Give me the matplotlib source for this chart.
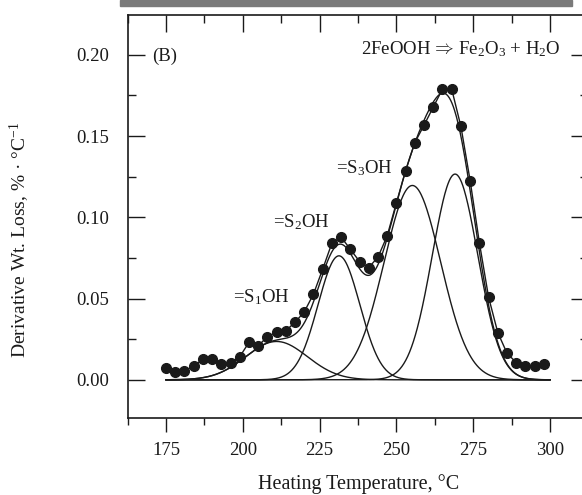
import numpy as np
import matplotlib
matplotlib.use("Agg")
from matplotlib import pyplot as plt
from matplotlib.ticker import MultipleLocator

plt.rcParams['font.family'] = ['Liberation Serif', 'DejaVu Serif']
plt.rcParams['mathtext.fontset'] = 'custom'
plt.rcParams['mathtext.rm'] = 'Liberation Serif'
plt.rcParams['mathtext.it'] = 'Liberation Serif:italic'

# measured derivative weight loss, every 3 degC from 175 to 298
temp = np.arange(175, 299, 3)
dtg = [0.0072, 0.0051, 0.0053, 0.0086, 0.0126, 0.0126, 0.0095, 0.0105, 0.0142, 0.0230,
       0.0209, 0.0265, 0.0294, 0.0302, 0.0354, 0.0418, 0.0527, 0.0681, 0.0841, 0.0878,
       0.0804, 0.0728, 0.0691, 0.0755, 0.0886, 0.1089, 0.1287, 0.1460, 0.1567, 0.1678,
       0.1789, 0.1789, 0.1559, 0.1226, 0.0845, 0.0509, 0.0291, 0.0164, 0.0106, 0.0086,
       0.0086, 0.0097]

# fitted peaks (=S1OH, =S2OH, =S3OH, FeOOH -> Fe2O3)
peak_center = [211.0, 231.3, 255.2, 269.1]
peak_height = [0.0236, 0.0763, 0.1196, 0.1266]
peak_sigma = [10.0, 6.8, 9.2, 7.4]

ink = '#1a1a1a'

fig = plt.figure(figsize=(5.82, 4.95), dpi=100)

# grey strip left over from the panel above
fig.patches.append(plt.Rectangle((120 / 582, 1 - 6 / 495), 452 / 582, 6 / 495,
                                 transform=fig.transFigure, color='#7a7a7a', zorder=0))

ax = fig.add_axes([127.6 / 582, 77 / 495, 460.8 / 582, 403 / 495])

t = np.linspace(175, 300, 600)
total = np.zeros_like(t)
for c, h, s in zip(peak_center, peak_height, peak_sigma):
    g = h * np.exp(-(t - c) ** 2 / (2 * s ** 2))
    total += g
    ax.plot(t, g, color=ink, lw=1.0)
ax.plot(t, total, color=ink, lw=1.0)
ax.plot(temp, dtg, '-o', color=ink, lw=1.0, ms=7)

ax.set_xlim(162.5, 312.5)
ax.set_ylim(-0.0235, 0.2245)
ax.xaxis.set_major_locator(MultipleLocator(25))
ax.xaxis.set_minor_locator(MultipleLocator(12.5))
ax.yaxis.set_minor_locator(MultipleLocator(0.025))
ax.set_yticks([0, 0.05, 0.1, 0.15, 0.2])
ax.set_yticklabels(['0.00', '0.05', '0.10', '0.15', '0.20'])

ax.tick_params(axis='x', which='both', bottom=True, top=True, labelsize=13.5, pad=7,
               width=1, color=ink, labelcolor=ink)
ax.tick_params(axis='x', which='major', direction='out', length=10)
ax.tick_params(axis='x', which='minor', direction='out', length=5)
ax.tick_params(axis='y', which='both', left=True, right=True, direction='in', labelsize=13.5,
               pad=13, width=1, color=ink, labelcolor=ink)
ax.tick_params(axis='y', which='major', length=12)
ax.tick_params(axis='y', which='minor', length=6)
for side in ['top', 'left', 'right', 'bottom']:
    ax.spines[side].set_linewidth(1.2)
    ax.spines[side].set_color(ink)

# top ticks point inward
for tk in ax.xaxis.get_major_ticks():
    tk.tick2line.set_marker(matplotlib.lines.TICKDOWN)
    tk.tick2line.set_markersize(12)
for tk in ax.xaxis.get_minor_ticks():
    tk.tick2line.set_marker(matplotlib.lines.TICKDOWN)
    tk.tick2line.set_markersize(6)

ax.text(170.4, 0.199, '(B)', fontsize=13.5, va='center', color=ink)
ax.text(303.3, 0.2035, r'2FeOOH$\,\Rightarrow\,$Fe$_2$O$_3$ + H$_2$O', fontsize=13.5,
        ha='right', va='center', color=ink)
ax.text(230.3, 0.130, r'=S$_3$OH', fontsize=13.5, va='center', color=ink)
ax.text(209.8, 0.097, r'=S$_2$OH', fontsize=13.5, va='center', color=ink)
ax.text(196.8, 0.051, r'=S$_1$OH', fontsize=13.5, va='center', color=ink)

fig.text(359 / 582, 1 - 484 / 495, 'Heating Temperature, \u00b0C', fontsize=14.5,
         ha='center', va='center', color=ink)
fig.text(20 / 582, 1 - 240 / 495, 'Derivative Wt. Loss, % \u00b7 \u00b0C$^{-1}$',
         fontsize=14, rotation=90, ha='center', va='center', color=ink)

fig.savefig('out.png', dpi=100)
